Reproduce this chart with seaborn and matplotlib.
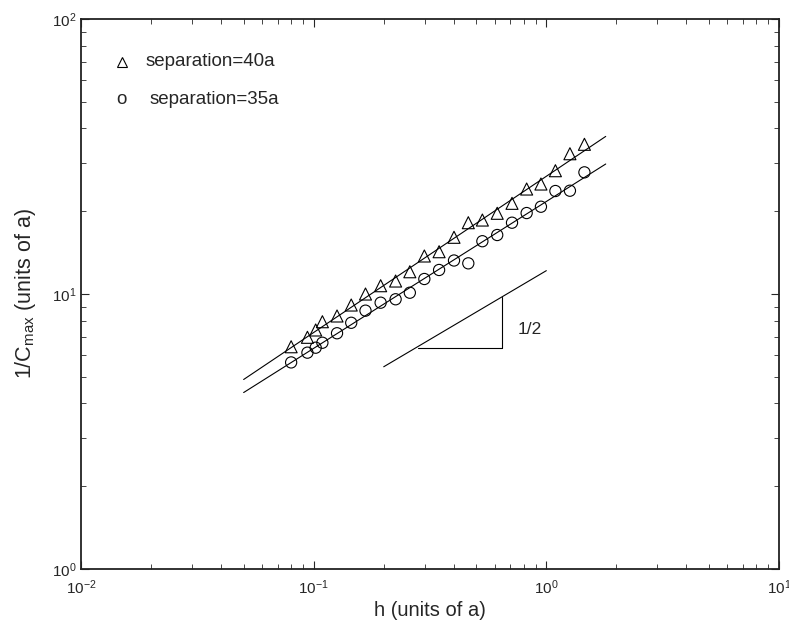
import numpy as np
import pandas as pd
import matplotlib
matplotlib.use("Agg")
import matplotlib.pyplot as plt
import seaborn as sns

# h (units of a), same for both series
h_vals = [0.080, 0.094, 0.102, 0.109, 0.126, 0.145, 0.167, 0.194, 0.225, 0.259, 0.299,
          0.346, 0.401, 0.462, 0.531, 0.615, 0.712, 0.823, 0.948, 1.094, 1.263, 1.458]
# 1/Cmax, separation=40a (triangles)
sep40 = [6.43, 6.96, 7.40, 7.93, 8.32, 9.12, 10.0, 10.72, 11.15, 12.05, 13.75,
         14.25, 16.08, 18.17, 18.58, 19.66, 21.37, 24.09, 25.12, 28.08, 32.37, 35.03]
# 1/Cmax, separation=35a (circles)
sep35 = [5.64, 6.12, 6.38, 6.65, 7.20, 7.86, 8.70, 9.30, 9.57, 10.11, 11.34,
         12.23, 13.24, 12.93, 15.56, 16.39, 18.17, 19.70, 20.77, 23.69, 23.75, 27.70]

# power-law fits  y = amp * h**expo
fit_amp = [26.8, 21.7]
fit_exp = [0.568, 0.534]
fit_h = [0.05, 1.8]

# slope-1/2 guide triangle
guide_h = [0.2, 1.0]
guide_amp = 12.16
guide_base_h = [0.2816, 0.644]
guide_base_y = 6.35

sns.set_style("ticks")
plt.rcParams["font.family"] = ["Liberation Sans", "DejaVu Sans"]
plt.rcParams["mathtext.fontset"] = "custom"
plt.rcParams["mathtext.rm"] = "Liberation Sans"
plt.rcParams["mathtext.it"] = "Liberation Sans:italic"

fig = plt.figure(figsize=(7.89, 6.22), dpi=100)
ax = fig.add_axes([0.1027, 0.0852, 0.8846, 0.8842])

pts = pd.DataFrame({
    "h": h_vals * 2,
    "c": sep40 + sep35,
    "sep": ["40a"] * len(h_vals) + ["35a"] * len(h_vals),
})

# fit lines
hh = np.logspace(np.log10(fit_h[0]), np.log10(fit_h[1]), 50)
for a, b in zip(fit_amp, fit_exp):
    sns.lineplot(x=hh, y=a * hh ** b, ax=ax, color="black", lw=0.8)

sns.scatterplot(data=pts[pts.sep == "40a"], x="h", y="c", ax=ax, marker="^",
                s=75, facecolors="none", edgecolor="black", linewidth=0.8)
sns.scatterplot(data=pts[pts.sep == "35a"], x="h", y="c", ax=ax, marker="o",
                s=65, facecolors="none", edgecolor="black", linewidth=0.8)

# slope guide
gh = np.array(guide_h)
ax.plot(gh, guide_amp * gh ** 0.5, color="black", lw=0.8)
ax.plot(guide_base_h, [guide_base_y] * 2, color="black", lw=0.8)
ax.plot([guide_base_h[1]] * 2, [guide_base_y, guide_amp * guide_base_h[1] ** 0.5],
        color="black", lw=0.8)
ax.text(0.75, 7.4, "1/2", fontsize=12.5, va="center", ha="left")

ax.set_xscale("log")
ax.set_yscale("log")
ax.set_xlim(1e-2, 1e1)
ax.set_ylim(1e0, 1e2)

# legend drawn as text, like the original
ax.plot([0.058], [0.922], marker="^", ms=7, mfc="none", mec="black", mew=0.8,
        transform=ax.transAxes, ls="none")
ax.text(0.0927, 0.922, "separation=40a", transform=ax.transAxes, fontsize=13.5, va="center")
ax.text(0.058, 0.853, "o", transform=ax.transAxes, fontsize=13.5, va="center", ha="center")
ax.text(0.0979, 0.853, "separation=35a", transform=ax.transAxes, fontsize=13.5, va="center")

ax.set_xlabel("h (units of a)", fontsize=14.5, labelpad=3)
ax.set_ylabel(r"1/C$_{\mathrm{max}}$ (units of a)", fontsize=15.5, labelpad=10)
ax.tick_params(which="both", direction="in", top=True, right=True, labelsize=11)
ax.tick_params(axis="x", which="major", pad=7)
ax.tick_params(which="major", length=6, width=0.8)
ax.tick_params(which="minor", length=3.5, width=0.6)
for sp in ax.spines.values():
    sp.set_linewidth(1.3)
    sp.set_color("#222222")

fig.savefig("out.png", dpi=100)
